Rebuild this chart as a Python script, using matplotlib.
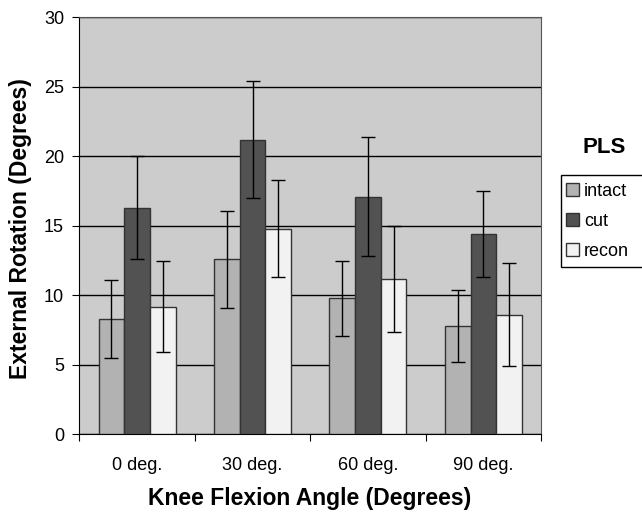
import numpy as np
import matplotlib
matplotlib.use('Agg')
import matplotlib.pyplot as plt
from matplotlib.patches import Rectangle

angles = ["0 deg.", "30 deg.", "60 deg.", "90 deg."]
groups = ["intact", "cut", "recon"]
means = {
    "intact": [8.3, 12.6, 9.8, 7.8],
    "cut": [16.3, 21.2, 17.1, 14.4],
    "recon": [9.2, 14.8, 11.2, 8.6],
}
errors = {
    "intact": [2.8, 3.5, 2.7, 2.6],
    "cut": [3.7, 4.2, 4.3, 3.1],
    "recon": [3.3, 3.5, 3.8, 3.7],
}
colors = {"intact": "#b2b2b2", "cut": "#525252", "recon": "#f2f2f2"}


def main():
    plt.rcParams['font.family'] = ['Liberation Sans', 'DejaVu Sans']
    fig = plt.figure(figsize=(6.42, 5.12), dpi=100)
    ax = fig.add_axes([0.1235, 0.1514, 0.7195, 0.8148])
    ax.set_facecolor("#cccccc")

    w = 1 / 4.5
    x = np.arange(len(angles)) + 0.5
    for i, g in enumerate(groups):
        ax.bar(x + (i - 1) * w, means[g], w, color=colors[g],
               edgecolor="#333333", linewidth=1, label=g, zorder=3)
        ax.errorbar(x + (i - 1) * w, means[g], yerr=errors[g], fmt="none",
                    ecolor="black", elinewidth=1, capsize=4.7,
                    capthick=1, zorder=4)

    ax.set_xlim(0, 4)
    ax.set_ylim(0, 30)
    ax.set_yticks(range(0, 31, 5))
    ax.yaxis.grid(True, color="black", linewidth=1, zorder=1)
    ax.set_axisbelow(True)
    ax.set_xticks(range(0, 5))
    ax.set_xticklabels([])
    ax.set_xticks(x, minor=True)
    ax.set_xticklabels(angles, minor=True, fontsize=13)
    ax.tick_params(axis="x", which="minor", length=0, pad=16)
    ax.tick_params(axis="x", which="major", length=5, direction="out")
    ax.tick_params(axis="y", length=5, labelsize=13, pad=6)
    for s in ["top", "right"]:
        ax.spines[s].set_color("#555555")
    for s in ["left", "bottom"]:
        ax.spines[s].set_color("black")

    fig.text(0.483, 1 - 505 / 512, "Knee Flexion Angle (Degrees)",
             fontsize=16.5, fontweight="bold", ha="center", va="baseline")
    fig.text(21 / 642, 1 - 229 / 512, "External Rotation (Degrees)",
             fontsize=16.5, fontweight="bold", rotation=90,
             ha="center", va="center")

    # legend box runs past the right edge like the reference
    fig.patches.append(Rectangle((561 / 642, 1 - 267 / 512), 0.2, 92 / 512,
                                 transform=fig.transFigure, facecolor="white",
                                 edgecolor="black", linewidth=1))
    fig.legend(loc="upper left", bbox_to_anchor=(566 / 642, 1 - 183 / 512),
               frameon=False, fontsize=13,
               handlelength=0.7, handleheight=0.7,
               handletextpad=0.3, labelspacing=0.72,
               borderpad=0, borderaxespad=0)
    fig.text(604 / 642, 1 - 153 / 512, "PLS", fontsize=16,
             fontweight="bold", ha="center", va="baseline")

    plt.savefig("out.png", dpi=100)


if __name__ == "__main__":
    main()
